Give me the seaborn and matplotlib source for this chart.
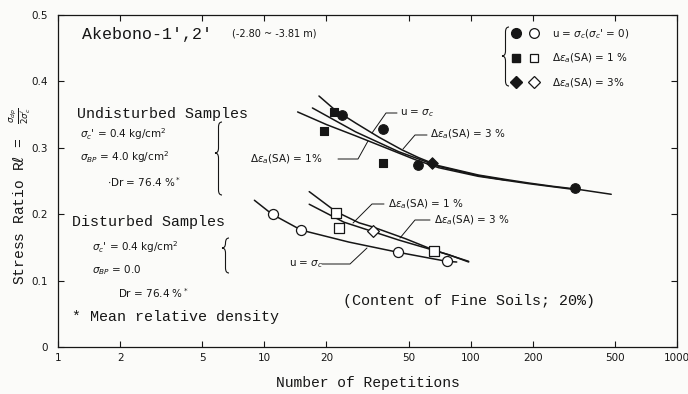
import numpy as np
import pandas as pd
import seaborn as sns
import matplotlib.pyplot as plt
from matplotlib.path import Path
from matplotlib.patches import PathPatch
from matplotlib.lines import Line2D
from matplotlib.legend_handler import HandlerTuple
from matplotlib.ticker import FixedLocator, FixedFormatter, NullLocator

W, H = 688, 394
INK = "#161616"
MONO = ["Liberation Mono", "DejaVu Sans Mono"]
SANS = ["DejaVu Sans"]

# undisturbed samples (filled symbols)
und_u_n = [23.7, 37.6, 55.6, 321]
und_u_r = [0.350, 0.328, 0.274, 0.239]
und_1_n = [21.8, 19.5, 37.6]
und_1_r = [0.354, 0.326, 0.277]
und_3_n = [64.6]
und_3_r = [0.277]

# disturbed samples (open symbols)
dis_u_n = [11.0, 15.0, 44.5, 76.8]
dis_u_r = [0.201, 0.176, 0.1435, 0.130]
dis_1_n = [22.2, 23.0, 66.2]
dis_1_r = [0.202, 0.179, 0.145]
dis_3_n = [33.6]
dis_3_r = [0.175]

# hand drawn curves
und_u_cn = [18.4, 22.0, 27.8, 35.9, 46.4, 56.1, 70.0, 109, 150, 191, 250, 322, 480]
und_u_cr = [0.378, 0.357, 0.337, 0.316, 0.297, 0.285, 0.273, 0.259, 0.252, 0.247, 0.242, 0.238, 0.230]
und_3_cn = [17.1, 27.7, 44.9, 56.1, 70.0, 109, 150]
und_3_cr = [0.360, 0.324, 0.294, 0.283, 0.272, 0.258, 0.251]
und_1_cn = [14.5, 20.0, 27.7, 38.0, 54.0, 70.0, 109, 191, 322]
und_1_cr = [0.354, 0.335, 0.318, 0.301, 0.282, 0.270, 0.257, 0.246, 0.237]

dis_u_cn = [8.95, 10.9, 15.1, 25.7, 43.9, 76.6, 85.6]
dis_u_cr = [0.221, 0.200, 0.176, 0.158, 0.143, 0.129, 0.128]
dis_1_cn = [16.5, 22.2, 28.8, 33.4, 48.4, 66.2, 97.8]
dis_1_cr = [0.234, 0.204, 0.187, 0.181, 0.163, 0.146, 0.129]
dis_3_cn = [16.5, 24.3, 44.9, 78.3, 97.8]
dis_3_cr = [0.215, 0.188, 0.161, 0.139, 0.128]

xticks = [1, 2, 5, 10, 20, 50, 100, 200, 500, 1000]
xtick_labels = ["1", "2", "5", "10", "20", "50", "100", "200", "500", "1000"]
yticks = [0, 0.1, 0.2, 0.3, 0.4, 0.5]
ytick_labels = ["0", "0.1", "0.2", "0.3", "0.4", "0.5"]


def fx(x, y):
	'''pixel position -> figure fraction'''
	return (x / W, 1 - y / H)


def put(x, y, s, size=7.5, family=SANS, **kw):
	fig.text(*fx(x, y), s, fontsize=size, family=family, color=INK, va="center", **kw)


def leader(xs, ys):
	p = [fx(a, b) for a, b in zip(xs, ys)]
	fig.add_artist(Line2D([q[0] for q in p], [q[1] for q in p], transform=fig.transFigure, color=INK, lw=0.7))


def brace(x, y0, y1, ytip, w=7, r=5):
	pts = [(x, y0), (x - w / 2, y0), (x - w / 2, y0 + r), (x - w / 2, ytip - r),
		(x - w / 2, ytip), (x - w, ytip), (x - w / 2, ytip), (x - w / 2, ytip + r),
		(x - w / 2, y1 - r), (x - w / 2, y1), (x, y1)]
	codes = [Path.MOVETO, Path.CURVE3, Path.CURVE3, Path.LINETO, Path.CURVE3, Path.CURVE3,
		Path.CURVE3, Path.CURVE3, Path.LINETO, Path.CURVE3, Path.CURVE3]
	path = Path([fx(a, b) for a, b in pts], codes)
	fig.add_artist(PathPatch(path, transform=fig.transFigure, fill=False, lw=0.8, color=INK))


sns.set_style("ticks")
plt.rcParams["font.family"] = SANS
plt.rcParams["mathtext.fontset"] = "dejavusans"

fig = plt.figure(figsize=(W / 100, H / 100), dpi=100, facecolor="#fbfbf9")
ax = fig.add_axes([58 / W, 1 - 347 / H, (677 - 58) / W, (347 - 15) / H])
ax.set_facecolor("#fbfbf9")

# curves
for cn, cr in [(und_u_cn, und_u_cr), (und_3_cn, und_3_cr), (und_1_cn, und_1_cr),
		(dis_u_cn, dis_u_cr), (dis_1_cn, dis_1_cr), (dis_3_cn, dis_3_cr)]:
	sns.lineplot(x=cn, y=cr, sort=False, estimator=None, color=INK, lw=1.1, ax=ax, zorder=2)

# symbols
filled = dict(color=INK, edgecolor=INK, linewidth=0.8, zorder=4, ax=ax)
hollow = dict(color="white", edgecolor=INK, linewidth=0.9, zorder=4, ax=ax)
sns.scatterplot(x=und_u_n, y=und_u_r, marker="o", s=48, **filled)
sns.scatterplot(x=und_1_n, y=und_1_r, marker="s", s=38, **filled)
sns.scatterplot(x=und_3_n, y=und_3_r, marker="D", s=34, **filled)
sns.scatterplot(x=dis_u_n, y=dis_u_r, marker="o", s=52, **hollow)
sns.scatterplot(x=dis_1_n, y=dis_1_r, marker="s", s=42, **hollow)
sns.scatterplot(x=dis_3_n, y=dis_3_r, marker="D", s=36, **hollow)

ax.set_xscale("log")
ax.set_xlim(1, 1000)
ax.set_ylim(0, 0.5)
ax.xaxis.set_major_locator(FixedLocator(xticks))
ax.xaxis.set_major_formatter(FixedFormatter(xtick_labels))
ax.xaxis.set_minor_locator(NullLocator())
ax.yaxis.set_major_locator(FixedLocator(yticks))
ax.yaxis.set_major_formatter(FixedFormatter(ytick_labels))
ax.tick_params(direction="in", top=True, right=True, length=4.5, width=0.8,
	colors=INK, labelsize=7.5)
ax.tick_params(axis="x", pad=4)
ax.tick_params(axis="y", pad=7)
for s in ax.spines.values():
	s.set_linewidth(0.9)
	s.set_color(INK)

ax.set_xlabel("Number of Repetitions", family=MONO, fontsize=10.5, color=INK, va="center")
ax.xaxis.set_label_coords(0.5, -0.108)
ax.set_ylabel(r"Stress Ratio R$\ell$ =", family=MONO, fontsize=10.5, color=INK, va="center")
ax.yaxis.set_label_coords(-0.062, 0.41)
put(20, 116, r"$\frac{\sigma_{dp}}{2\sigma_c^{\prime}}$", size=9, rotation=90, ha="center")

# legend, top right
hs = [(Line2D([], [], ls="", marker=m, ms=sz, mfc=INK, mec=INK),
	Line2D([], [], ls="", marker=m, ms=sz, mfc="white", mec=INK, mew=0.9))
	for m, sz in [("o", 7), ("s", 6.2), ("D", 5.8)]]
labs = [r"u = $\sigma_c$($\sigma_c$' = 0)", r"$\Delta\epsilon_a$(SA) = 1 %", r"$\Delta\epsilon_a$(SA) = 3%"]
fig.legend(hs, labs, handler_map={tuple: HandlerTuple(ndivide=None, pad=0.9)},
	loc="upper left", bbox_to_anchor=fx(506, 22), frameon=False, fontsize=7.5,
	labelspacing=1.05, handlelength=2.6, handletextpad=1.3, borderpad=0, labelcolor=INK)
brace(509, 27, 86, 56)

# left hand notes
put(82, 35, "Akebono-1',2'", size=12, family=MONO)
put(232, 33, "(-2.80 ~ -3.81 m)", size=7)
put(77, 114, "Undisturbed Samples", size=10.8, family=MONO)
put(80, 134, r"$\sigma_c$' = 0.4 kg/cm$^2$")
put(80, 157, r"$\sigma_{BP}$ = 4.0 kg/cm$^2$")
put(107, 182, r"$\cdot$Dr = 76.4 %$^*$")
brace(222, 122, 195, 153)
put(72, 222, "Disturbed Samples", size=10.8, family=MONO)
put(92, 247, r"$\sigma_c$' = 0.4 kg/cm$^2$")
put(92, 270, r"$\sigma_{BP}$ = 0.0")
put(118, 293, r"Dr = 76.4 %$^*$")
brace(229, 238, 273, 248)
put(72, 317, "* Mean relative density", size=10.8, family=MONO)
put(343, 301, "(Content of Fine Soils; 20%)", size=10.8, family=MONO)

# curve labels, upper group
put(400, 113, r"u = $\sigma_c$")
leader([397, 386, 372], [113, 113, 133])
put(430, 134, r"$\Delta\epsilon_a$(SA) = 3 %")
leader([427, 415, 403], [135, 135, 149])
put(250, 159, r"$\Delta\epsilon_a$(SA) = 1%")
leader([338, 358, 368], [159, 159, 141])

# curve labels, lower group
put(388, 204, r"$\Delta\epsilon_a$(SA) = 1 %")
leader([384, 372, 353], [204, 204, 223])
put(434, 220, r"$\Delta\epsilon_a$(SA) = 3 %")
leader([430, 415, 400], [220, 220, 238])
put(289, 264, r"u = $\sigma_c$")
leader([322, 350, 367], [264, 264, 248])

plt.savefig("out.png", dpi=100, facecolor=fig.get_facecolor())
